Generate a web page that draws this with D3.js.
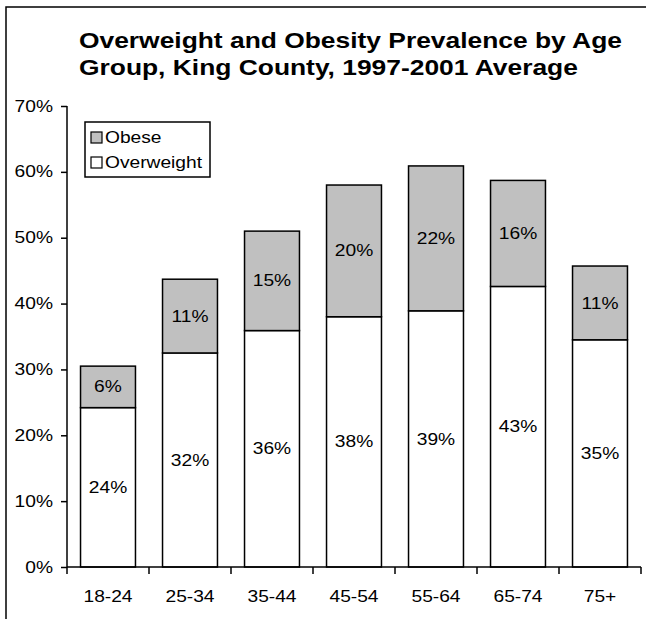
<!DOCTYPE html>
<html>
<head>
<meta charset="utf-8">
<script src="https://cdn.jsdelivr.net/npm/d3@7"></script>
<style>
  body { margin: 0; background: #fff; }
  text { font-family: "Liberation Sans", Arial, sans-serif; fill: #000; }
</style>
</head>
<body>
<div class="content"></div>
<script>
var svgWidth = 646;
var svgHeight = 619;

// Chart data.
var ageGroups = ["18-24", "25-34", "35-44", "45-54", "55-64", "65-74", "75+"];
var overweight = [24.2, 32.5, 35.9, 38.0, 38.9, 42.6, 34.5];
var obese = [6.3, 11.2, 15.1, 20.0, 22.0, 16.1, 11.2];
var overweightLabels = ["24%", "32%", "36%", "38%", "39%", "43%", "35%"];
var obeseLabels = ["6%", "11%", "15%", "20%", "22%", "16%", "11%"];
var yTicks = [0, 10, 20, 30, 40, 50, 60, 70];
var titleLines = ["Overweight and Obesity Prevalence by Age", "Group, King County, 1997-2001 Average"];
var legendNames = ["Obese", "Overweight"];

var plot = {"left" : 67, "right" : 641, "top" : 106, "bottom" : 567};
var textStretch = 1.2;  // The original text is drawn wider than the font's own widths.

// Stretch text horizontally about its own x position.
function stretch(sel, k)
{
  sel.attr("transform", function() {
    var tx = +this.getAttribute("x") || 0;
    return "translate(" + tx + ",0) scale(" + k + ",1) translate(" + (-tx) + ",0)";
  });
}

var svg = d3.select(".content")
  .append("svg")
  .attr("width", svgWidth)
  .attr("height", svgHeight);

svg.append("rect")
  .attr("width", svgWidth)
  .attr("height", svgHeight)
  .attr("fill", "#fff");

// Chart area border (only top and left edges show in the frame).
svg.append("rect")
  .attr("x", 6)
  .attr("y", 7)
  .attr("width", 700)
  .attr("height", 700)
  .attr("fill", "none")
  .attr("stroke", "#000")
  .attr("stroke-width", 1.5);

// Title, two lines, left aligned.
svg.append("g").selectAll("text")
  .data(titleLines)
  .enter().append("text")
  .attr("x", 79)
  .attr("y", function(d, i) { return 48 + i * 27; })
  .attr("font-size", 22)
  .attr("font-weight", "bold")
  .text(function(d) { return d; })
  .call(stretch, textStretch);

var x = d3.scaleBand()
  .domain(ageGroups)
  .range([plot.left, plot.right])
  .paddingInner(0.33)
  .paddingOuter(0.165);

var y = d3.scaleLinear()
  .domain([0, 70])
  .range([plot.bottom, plot.top]);

var rows = ageGroups.map(function(g, i) {
  return {"group" : g, "ow" : overweight[i], "ob" : obese[i], "owLabel" : overweightLabels[i], "obLabel" : obeseLabels[i]};
});

// Overweight segments.
var bars = svg.append("g");
bars.selectAll("rect.ow")
  .data(rows)
  .enter().append("rect")
  .classed("ow", true)
  .attr("x", function(d) { return x(d.group); })
  .attr("y", function(d) { return y(d.ow); })
  .attr("width", x.bandwidth())
  .attr("height", function(d) { return y(0) - y(d.ow); })
  .attr("fill", "#fff")
  .attr("stroke", "#000")
  .attr("stroke-width", 1.5);

// Obese segments stacked on top.
bars.selectAll("rect.ob")
  .data(rows)
  .enter().append("rect")
  .classed("ob", true)
  .attr("x", function(d) { return x(d.group); })
  .attr("y", function(d) { return y(d.ow + d.ob); })
  .attr("width", x.bandwidth())
  .attr("height", function(d) { return y(d.ow) - y(d.ow + d.ob); })
  .attr("fill", "#c0c0c0")
  .attr("stroke", "#000")
  .attr("stroke-width", 1.5);

// Value labels centred in each segment.
bars.selectAll("text.owl")
  .data(rows)
  .enter().append("text")
  .attr("x", function(d) { return x(d.group) + x.bandwidth() / 2; })
  .attr("y", function(d) { return (y(0) + y(d.ow)) / 2; })
  .attr("dy", "0.35em")
  .attr("text-anchor", "middle")
  .attr("font-size", 16)
  .text(function(d) { return d.owLabel; })
  .call(stretch, textStretch);

bars.selectAll("text.obl")
  .data(rows)
  .enter().append("text")
  .attr("x", function(d) { return x(d.group) + x.bandwidth() / 2; })
  .attr("y", function(d) { return (y(d.ow) + y(d.ow + d.ob)) / 2; })
  .attr("dy", "0.35em")
  .attr("text-anchor", "middle")
  .attr("font-size", 16)
  .text(function(d) { return d.obLabel; })
  .call(stretch, textStretch);

// Y axis.
var yAxis = svg.append("g")
  .attr("transform", "translate(" + plot.left + ",0)")
  .call(d3.axisLeft(y)
    .tickValues(yTicks)
    .tickSize(6)
    .tickPadding(8)
    .tickFormat(function(d) { return d + "%"; }));

// X axis, ticks between categories.
var xAxis = svg.append("g")
  .attr("transform", "translate(0," + plot.bottom + ")")
  .call(d3.axisBottom(x).tickSize(0).tickPadding(24));

var step = x.step();
var borders = d3.range(ageGroups.length + 1).map(function(i) {
  return plot.left + i * step;
});
xAxis.selectAll("line.sep")
  .data(borders)
  .enter().append("line")
  .attr("x1", function(d) { return d; })
  .attr("x2", function(d) { return d; })
  .attr("y1", 0)
  .attr("y2", 7)
  .attr("stroke", "#000")
  .attr("stroke-width", 1.5);

[yAxis, xAxis].forEach(function(a) {
  a.selectAll("path.domain").attr("stroke", "#000").attr("stroke-width", 1.5);
  a.selectAll(".tick line").attr("stroke", "#000").attr("stroke-width", 1.5);
  a.selectAll("text")
    .attr("font-family", "Liberation Sans, Arial, sans-serif")
    .attr("font-size", 16)
    .attr("fill", "#000")
    .call(stretch, textStretch);
});
yAxis.select("path.domain").attr("d", "M0," + plot.bottom + "V" + plot.top);
xAxis.select("path.domain").attr("d", "M" + plot.left + ",0H" + plot.right);

// Legend.
var legend = svg.append("g");
legend.append("rect")
  .attr("x", 85)
  .attr("y", 122)
  .attr("width", 125)
  .attr("height", 55)
  .attr("fill", "#fff")
  .attr("stroke", "#000")
  .attr("stroke-width", 1.5);

var legendFill = ["#c0c0c0", "#fff"];
legend.selectAll("rect.sw")
  .data(legendNames)
  .enter().append("rect")
  .attr("x", 91)
  .attr("y", function(d, i) { return 132 + i * 25; })
  .attr("width", 11)
  .attr("height", 11)
  .attr("fill", function(d, i) { return legendFill[i]; })
  .attr("stroke", "#000")
  .attr("stroke-width", 1.2);

legend.selectAll("text")
  .data(legendNames)
  .enter().append("text")
  .attr("x", 105)
  .attr("y", function(d, i) { return 143 + i * 25; })
  .attr("font-size", 16)
  .text(function(d) { return d; })
  .call(stretch, textStretch);
</script>
</body>
</html>
